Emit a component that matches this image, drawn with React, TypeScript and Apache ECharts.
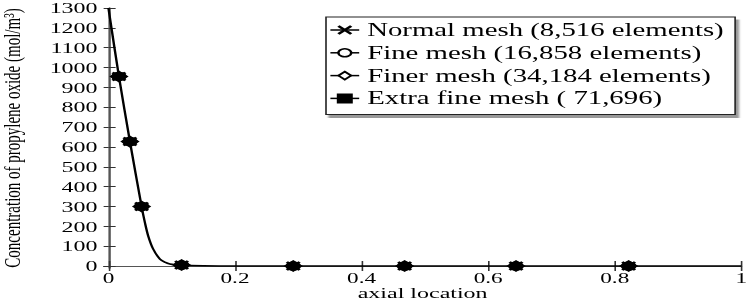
import React, { useEffect, useRef } from 'react';
import * as echarts from 'echarts';

// Solution curve (axial location vs concentration)
const curveX = [0, 0.0166, 0.034, 0.0524, 0.0577, 0.0629, 0.0708, 0.0814, 0.09, 0.097, 0.106, 0.1156, 0.13, 0.15, 0.2, 0.3, 1];
const curveY = [1300, 955, 627, 300, 218, 151, 85, 35, 18, 10, 6, 4, 2, 1, 0, 0, 0];

// Marker points for each mesh
const meshX = [0.0166, 0.034, 0.0524, 0.1156, 0.292, 0.468, 0.644, 0.822];
const normalMesh = [955, 627, 300, 5, 0, 0, 0, 0];
const fineMesh = [955, 627, 300, 5, 0, 0, 0, 0];
const finerMesh = [955, 627, 300, 5, 0, 0, 0, 0];
const extraFineMesh = [955, 627, 300, 5, 0, 0, 0, 0];

const seriesNames = [
  'Normal mesh (8,516 elements)',
  'Fine mesh (16,858 elements)',
  'Finer mesh (34,184 elements)',
  'Extra fine mesh ( 71,696)',
];

const xTicks = [0, 0.2, 0.4, 0.6, 0.8, 1];
const yTicks = [0, 100, 200, 300, 400, 500, 600, 700, 800, 900, 1000, 1100, 1200, 1300];

const W = 749;
const H = 302;
const SX = 1.6;

export default function App() {
  const ref = useRef<HTMLDivElement>(null);
  useEffect(() => {
    if (!ref.current) return;
    const chart = echarts.init(ref.current, null, { renderer: 'svg' });
    const font = 'Liberation Serif';
    const pair = (ys: number[]) => meshX.map((x, i) => [x, ys[i]]);
    const axisLine = { show: true, lineStyle: { color: '#555', width: 1.2 } };
    const markerBase = {
      type: 'line' as const,
      lineStyle: { width: 0, opacity: 0 },
      showSymbol: true,
      z: 3,
    };
    const option: any = {
      animation: false,
      backgroundColor: '#fff',
      textStyle: { fontFamily: font, color: '#000' },
      grid: { left: 65, right: W / SX - 463.44, top: 8, bottom: 34, outerBoundsMode: 'none', containLabel: false },
      legend: {
        orient: 'vertical',
        left: 203.75,
        top: 17,
        padding: [4, 7, 7, 2],
        itemGap: 4.8,
        itemWidth: 18,
        itemHeight: 10,
        data: [
          { name: seriesNames[0] },
          { name: seriesNames[1], itemStyle: { color: '#fff', borderColor: '#000', borderWidth: 1.5 } },
          { name: seriesNames[2], itemStyle: { color: '#fff', borderColor: '#000', borderWidth: 1.5 } },
          { name: seriesNames[3] },
        ],
        backgroundColor: '#fff',
        borderColor: '#222',
        borderWidth: 1,
        shadowColor: 'rgba(0,0,0,0.4)',
        shadowBlur: 1,
        shadowOffsetX: 2,
        shadowOffsetY: 3,
        textStyle: { fontFamily: font, fontSize: 18, color: '#000' },
        lineStyle: { color: '#000', width: 1.5, opacity: 1 },
      },
      xAxis: [
        {
          type: 'value',
          min: -0.007,
          max: 1,
          position: 'bottom',
          axisLine,
          axisTick: { show: true, inside: true, length: 5, customValues: xTicks, lineStyle: { color: '#333' } },
          axisLabel: {
            customValues: xTicks,
            formatter: (v: number) => String(v),
            margin: 3,
            fontSize: 14.5,
            fontFamily: font,
            color: '#000',
          },
          splitLine: { show: false },
          name: 'axial location',
          nameLocation: 'middle',
          nameGap: 17,
          nameMoveOverlap: false,
          nameTextStyle: { fontSize: 15, fontFamily: font, color: '#000' },
        },
        {
          type: 'value',
          min: -0.007,
          max: 1,
          position: 'top',
          axisLine,
          axisTick: { show: true, inside: true, length: 5, customValues: xTicks, lineStyle: { color: '#333' } },
          axisLabel: { show: false },
          splitLine: { show: false },
        },
      ],
      yAxis: [
        {
          type: 'value',
          min: -10,
          max: 1300,
          position: 'left',
          axisLine,
          axisTick: { show: true, inside: true, length: 4.5, customValues: yTicks, lineStyle: { color: '#333' } },
          axisLabel: {
            customValues: yTicks,
            formatter: (v: number) => String(v),
            margin: 4,
            fontSize: 15,
            lineHeight: 12,
            fontFamily: font,
            color: '#000',
          },
          splitLine: { show: false },
          name: 'Concentration of propylene oxide (mol/m³)',
          nameLocation: 'middle',
          nameRotate: 90,
          nameGap: 50,
          nameMoveOverlap: false,
          nameTextStyle: { fontSize: 15, fontFamily: font, color: '#000' },
        },
        {
          type: 'value',
          min: -10,
          max: 1300,
          position: 'right',
          axisLine,
          axisTick: { show: true, inside: true, length: 3, customValues: yTicks, lineStyle: { color: '#333' } },
          axisLabel: { show: false },
          splitLine: { show: false },
        },
      ],
      series: [
        {
          name: 'curve',
          type: 'line',
          data: curveX.map((x, i) => [x, curveY[i]]),
          showSymbol: false,
          smooth: 0.3,
          lineStyle: { color: '#000', width: 1.5 },
          z: 2,
        },
        {
          ...markerBase,
          name: seriesNames[0],
          data: pair(normalMesh),
          symbol: 'path://M0 0L10 10M10 0L0 10',
          symbolSize: 8,
          itemStyle: { color: '#000', borderColor: '#000', borderWidth: 2 },
        },
        {
          ...markerBase,
          name: seriesNames[1],
          data: pair(fineMesh),
          symbol: 'circle',
          symbolSize: 8,
          itemStyle: { color: '#000', borderColor: '#000', borderWidth: 1.5 },
        },
        {
          ...markerBase,
          name: seriesNames[2],
          data: pair(finerMesh),
          symbol: 'diamond',
          symbolSize: 10,
          itemStyle: { color: '#000', borderColor: '#000', borderWidth: 1.5 },
        },
        {
          ...markerBase,
          name: seriesNames[3],
          data: pair(extraFineMesh),
          symbol: 'rect',
          symbolSize: 6,
          itemStyle: { color: '#000', borderColor: '#000', borderWidth: 1 },
        },
      ],
    };
    chart.setOption(option);
    return () => chart.dispose();
  }, []);
  return (
    <div style={{ position: 'fixed', left: 0, top: 0, width: W, height: H, overflow: 'hidden', background: '#fff' }}>
      <div
        ref={ref}
        style={{ width: W / SX, height: H, transform: `scaleX(${SX})`, transformOrigin: '0 0' }}
      />
    </div>
  );
}
